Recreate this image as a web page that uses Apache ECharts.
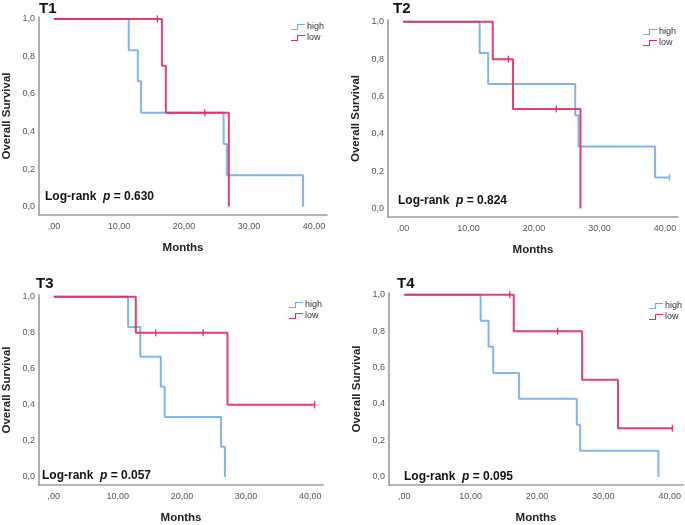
<!DOCTYPE html>
<html><head><meta charset="utf-8">
<script src="https://cdn.jsdelivr.net/npm/echarts@6/dist/echarts.min.js"></script>
<style>html,body{margin:0;padding:0;background:#fff}#c{width:685px;height:525px}</style>
</head><body><div id="c"></div>
<script>
// ---- data ----
const xTicks = [0, 10, 20, 30, 40];
const yTicks = [0, 0.2, 0.4, 0.6, 0.8, 1.0];
const panelTitles = ['T1', 'T2', 'T3', 'T4'];
const pValues = ['0.630', '0.824', '0.057', '0.095'];
const groupNames = ['high', 'low'];

// T1
const t1HighT = [0, 11.5, 12.9, 13.4, 26.1, 26.6, 38.3];
const t1HighS = [1, 0.833, 0.667, 0.5, 0.333, 0.167, 0];
const t1HighCensT = [];
const t1HighCensS = [];
const t1LowT = [0, 16.6, 17.2, 26.9];
const t1LowS = [1, 0.75, 0.5, 0];
const t1LowCensT = [15.9, 23.2];
const t1LowCensS = [1, 0.5];
// T2
const t2HighT = [0, 11.7, 13.0, 26.3, 26.8, 38.5, 40.7];
const t2HighS = [1, 0.833, 0.667, 0.5, 0.333, 0.167, 0.167];
const t2HighCensT = [40.7];
const t2HighCensS = [0.167];
const t2LowT = [0, 13.7, 16.8, 27.1];
const t2LowS = [1, 0.8, 0.533, 0];
const t2LowCensT = [16.1, 23.4];
const t2LowCensS = [0.8, 0.533];
// T3
const t3HighT = [0, 11.6, 13.5, 16.7, 17.3, 26.1, 26.7];
const t3HighS = [1, 0.833, 0.667, 0.5, 0.333, 0.167, 0];
const t3HighCensT = [];
const t3HighCensS = [];
const t3LowT = [0, 12.8, 27.1, 40.7];
const t3LowS = [1, 0.8, 0.4, 0.4];
const t3LowCensT = [15.9, 23.3, 40.7];
const t3LowCensS = [0.8, 0.8, 0.4];
// T4
const t4HighT = [0, 11.5, 12.7, 13.4, 17.3, 26.0, 26.5, 38.3];
const t4HighS = [1, 0.857, 0.714, 0.571, 0.429, 0.286, 0.143, 0];
const t4HighCensT = [];
const t4HighCensS = [];
const t4LowT = [0, 16.5, 26.8, 32.2, 40.4];
const t4LowS = [1, 0.8, 0.533, 0.267, 0.267];
const t4LowCensT = [15.9, 23.1, 40.4];
const t4LowCensS = [1, 0.8, 0.267];

// ---- layout / style ----
const panelData = [
  {hT: t1HighT, hS: t1HighS, hcT: t1HighCensT, hcS: t1HighCensS, lT: t1LowT, lS: t1LowS, lcT: t1LowCensT, lcS: t1LowCensS},
  {hT: t2HighT, hS: t2HighS, hcT: t2HighCensT, hcS: t2HighCensS, lT: t2LowT, lS: t2LowS, lcT: t2LowCensT, lcS: t2LowCensS},
  {hT: t3HighT, hS: t3HighS, hcT: t3HighCensT, hcS: t3HighCensS, lT: t3LowT, lS: t3LowS, lcT: t3LowCensT, lcS: t3LowCensS},
  {hT: t4HighT, hS: t4HighS, hcT: t4HighCensT, hcS: t4HighCensS, lT: t4LowT, lS: t4LowS, lcT: t4LowCensT, lcS: t4LowCensS}
];
const grids = [
  {left: 33, top: 17, width: 294, height: 198},
  {left: 388, top: 20, width: 290, height: 197},
  {left: 32, top: 295, width: 291, height: 196},
  {left: 389, top: 293, width: 294, height: 199}
];
const titlePos = [[39, 1], [393, 1], [36, 276], [397, 276]];
const pPos = [[45, 191], [398, 195], [42, 470], [404, 471]];
const legendPos = [[291, 22], [643, 27], [289, 300], [649, 301]];

const BLUE = '#72a9ee';
const RED = '#e0265a';
const FONT = '"Liberation Sans", Arial, sans-serif';
const stepIcon = 'path://M0,5 L6,5 L6,0 L14,0 L14,1.1 L7.1,1.1 L7.1,6 L0,6 Z';

const zip = (a, b) => a.map((v, i) => [v, b[i]]);
const xFmt = v => v === 0 ? ',00' : v.toFixed(2).replace('.', ',');
const yFmt = v => v.toFixed(1).replace('.', ',');

const option = {
  animation: false,
  backgroundColor: '#ffffff',
  textStyle: {fontFamily: FONT},
  grid: grids.map(g => Object.assign({containLabel: false}, g)),
  xAxis: grids.map((g, i) => ({
    type: 'value', gridIndex: i, min: -2.3, max: 42,
    name: 'Months', nameLocation: 'middle', nameGap: 27,
    nameTextStyle: {fontFamily: FONT, fontWeight: 'bold', fontSize: 11.5, color: '#222'},
    axisLine: {show: true, onZero: false, lineStyle: {color: '#9a9a9a', width: 1.6}},
    axisTick: {show: false},
    splitLine: {show: false},
    axisLabel: {customValues: xTicks, formatter: xFmt, fontFamily: FONT, fontSize: 9, color: '#555', margin: 7}
  })),
  yAxis: grids.map((g, i) => ({
    type: 'value', gridIndex: i, min: -0.045, max: 1.01,
    name: 'Overall Survival', nameLocation: 'middle', nameGap: 26,
    nameTextStyle: {fontFamily: FONT, fontWeight: 'bold', fontSize: 11.5, color: '#222'},
    axisLine: {show: true, onZero: false, lineStyle: {color: '#9a9a9a', width: 1.6}},
    axisTick: {show: false},
    splitLine: {show: false},
    axisLabel: {customValues: yTicks, formatter: yFmt, fontFamily: FONT, fontSize: 9, color: '#555', margin: 4}
  })),
  title: [],
  legend: legendPos.map(p => ({
    left: p[0], top: p[1], orient: 'vertical',
    data: groupNames, icon: stepIcon,
    itemWidth: 14, itemHeight: 6, itemGap: 1,
    itemStyle: {borderWidth: 0},
    textStyle: {fontFamily: FONT, fontSize: 9, color: '#333', lineHeight: 10, padding: [0, 0, 0, -3]},
    padding: 0, selectedMode: false
  })),
  series: []
};

panelTitles.forEach((t, i) => {
  option.title.push({
    text: t, left: titlePos[i][0], top: titlePos[i][1], padding: 0,
    textStyle: {fontFamily: FONT, fontWeight: 'bold', fontSize: 15, color: '#111'}
  });
  option.title.push({
    text: '{a|Log-rank  }{b|p}{a| = ' + pValues[i] + '}',
    left: pPos[i][0], top: pPos[i][1], padding: 0,
    textStyle: {rich: {
      a: {fontFamily: FONT, fontWeight: 'bold', fontSize: 12, color: '#111'},
      b: {fontFamily: FONT, fontWeight: 'bold', fontStyle: 'italic', fontSize: 12, color: '#111'}
    }}
  });
});

panelData.forEach((d, i) => {
  const mk = (name, T, S, color, z) => ({
    name: name, type: 'line', xAxisIndex: i, yAxisIndex: i, step: 'end',
    data: zip(T, S), showSymbol: false, symbol: 'none', silent: true, z: z,
    lineStyle: {color: color, width: 2, opacity: 0.88},
    itemStyle: {color: color}
  });
  const mc = (name, T, S, color, z) => ({
    name: name, type: 'scatter', xAxisIndex: i, yAxisIndex: i,
    data: zip(T, S), symbol: 'rect', symbolSize: [1.4, 7], silent: true, z: z,
    itemStyle: {color: color, opacity: 0.9}
  });
  option.series.push(mk('high', d.hT, d.hS, BLUE, 2));
  option.series.push(mk('low', d.lT, d.lS, RED, 3));
  option.series.push(mc('high censored', d.hcT, d.hcS, BLUE, 2));
  option.series.push(mc('low censored', d.lcT, d.lcS, RED, 3));
});

const chart = echarts.init(document.getElementById('c'), null, {renderer: 'canvas'});
chart.setOption(option);
</script>
</body></html>
